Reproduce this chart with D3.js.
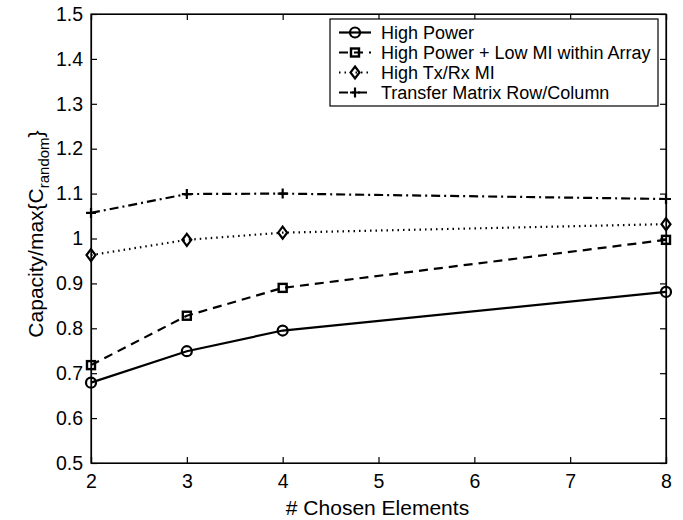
<!DOCTYPE html>
<html>
<head>
<meta charset="utf-8">
<script src="https://cdn.jsdelivr.net/npm/d3@7"></script>
<style>
  body { margin: 0; background: #fff; }
  svg text { font-family: "Liberation Sans", Arial, sans-serif; fill: #000; }
</style>
</head>
<body>
<div id="chart"></div>
<script>
// data
var elements = [2, 3, 4, 8];
var highPower = [0.679, 0.749, 0.795, 0.881];
var highPowerLowMI = [0.718, 0.828, 0.890, 0.997];
var highTxRxMI = [0.963, 0.997, 1.013, 1.032];
var transferRowCol = [1.057, 1.099, 1.100, 1.088];

var seriesNames = ["High Power", "High Power + Low MI within Array", "High Tx/Rx MI", "Transfer Matrix Row/Column"];
var xTicks = [2, 3, 4, 5, 6, 7, 8];
var yTicks = [0.5, 0.6, 0.7, 0.8, 0.9, 1.0, 1.1, 1.2, 1.3, 1.4, 1.5];

var W = 683, H = 520;
var margin = {top: 14, right: 17, bottom: 57, left: 91};
var width = W - margin.left - margin.right,
    height = H - margin.top - margin.bottom;

var svg = d3.select("#chart").append("svg")
    .attr("width", W).attr("height", H);

var g = svg.append("g")
    .attr("transform", "translate(" + margin.left + "," + margin.top + ")");

var x = d3.scaleLinear().domain([2, 8]).range([0, width]);
var y = d3.scaleLinear().domain([0.5, 1.5]).range([height, 0]);

// frame box
g.append("rect")
    .attr("width", width).attr("height", height)
    .attr("fill", "none").attr("stroke", "#000").attr("stroke-width", 1.2);

// axes, ticks pointing inward like matlab
var fmtY = function(d) { return d === 1 ? "1" : d3.format(".1f")(d); };

var xAxis = g.append("g")
    .attr("transform", "translate(0," + height + ")")
    .call(d3.axisBottom(x).tickValues(xTicks).tickSize(-6).tickPadding(11).tickFormat(d3.format("d")));
var yAxis = g.append("g")
    .call(d3.axisLeft(y).tickValues(yTicks).tickSize(-6).tickPadding(8).tickFormat(fmtY));
var xTop = g.append("g")
    .call(d3.axisTop(x).tickValues(xTicks).tickSize(-6).tickFormat(""));
var yRight = g.append("g")
    .attr("transform", "translate(" + width + ",0)")
    .call(d3.axisRight(y).tickValues(yTicks).tickSize(-6).tickFormat(""));

[xAxis, yAxis, xTop, yRight].forEach(function(a) {
    a.select(".domain").attr("stroke", "#000").attr("stroke-width", 1.2);
    a.selectAll(".tick line").attr("stroke", "#000").attr("stroke-width", 1.2);
    a.selectAll("text").style("font-size", "19.5px").attr("fill", "#000");
});

// axis labels
svg.append("text")
    .attr("x", margin.left + width / 2 - 1).attr("y", 515)
    .attr("text-anchor", "middle").style("font-size", "21px")
    .text("# Chosen Elements");

var ylab = svg.append("text")
    .attr("transform", "translate(43," + 234 + ") rotate(-90)")
    .attr("text-anchor", "middle").style("font-size", "21px");
ylab.append("tspan").text("Capacity/max{C");
ylab.append("tspan").attr("dy", 6).style("font-size", "15px").text("random");
ylab.append("tspan").attr("dy", -6).text("}");

// series
var series = [
    {name: seriesNames[0], values: highPower, dash: null, marker: "circle"},
    {name: seriesNames[1], values: highPowerLowMI, dash: "9,6", marker: "square"},
    {name: seriesNames[2], values: highTxRxMI, dash: "1.5,4", marker: "diamond"},
    {name: seriesNames[3], values: transferRowCol, dash: "9,4,2,4", marker: "plus"}
];

var line = d3.line()
    .x(function(d, i) { return x(elements[i]); })
    .y(function(d) { return y(d); });

function drawMarker(sel, type, cx, cy) {
    if (type === "circle") {
        sel.append("circle").attr("cx", cx).attr("cy", cy).attr("r", 5)
            .attr("fill", "none").attr("stroke", "#000").attr("stroke-width", 2.2);
    } else if (type === "square") {
        sel.append("rect").attr("x", cx - 4).attr("y", cy - 4).attr("width", 8).attr("height", 8)
            .attr("fill", "none").attr("stroke", "#000").attr("stroke-width", 2.4);
    } else if (type === "diamond") {
        sel.append("path")
            .attr("d", "M" + cx + "," + (cy - 6) + "L" + (cx + 4.5) + "," + cy + "L" + cx + "," + (cy + 6) + "L" + (cx - 4.5) + "," + cy + "Z")
            .attr("fill", "none").attr("stroke", "#000").attr("stroke-width", 2.2);
    } else {
        sel.append("path")
            .attr("d", "M" + (cx - 5) + "," + cy + "H" + (cx + 5) + "M" + cx + "," + (cy - 5) + "V" + (cy + 5))
            .attr("stroke", "#000").attr("stroke-width", 2.2);
    }
}

series.forEach(function(s) {
    g.append("path")
        .attr("d", line(s.values))
        .attr("fill", "none").attr("stroke", "#000").attr("stroke-width", 2.2)
        .attr("stroke-dasharray", s.dash);
    var mg = g.append("g");
    s.values.forEach(function(v, i) {
        drawMarker(mg, s.marker, x(elements[i]), y(v));
    });
});

// legend
var leg = svg.append("g").attr("transform", "translate(330,19)");
leg.append("rect").attr("width", 328).attr("height", 87)
    .attr("fill", "#fff").attr("stroke", "#000").attr("stroke-width", 1.2);
series.forEach(function(s, i) {
    var ly = 13.5 + i * 20;
    leg.append("line").attr("x1", 9).attr("x2", 41).attr("y1", ly).attr("y2", ly)
        .attr("stroke", "#000").attr("stroke-width", 2.2).attr("stroke-dasharray", s.dash);
    drawMarker(leg, s.marker, 25, ly);
    leg.append("text").attr("x", 51).attr("y", ly + 6.5)
        .style("font-size", "18px").text(s.name);
});
</script>
</body>
</html>
